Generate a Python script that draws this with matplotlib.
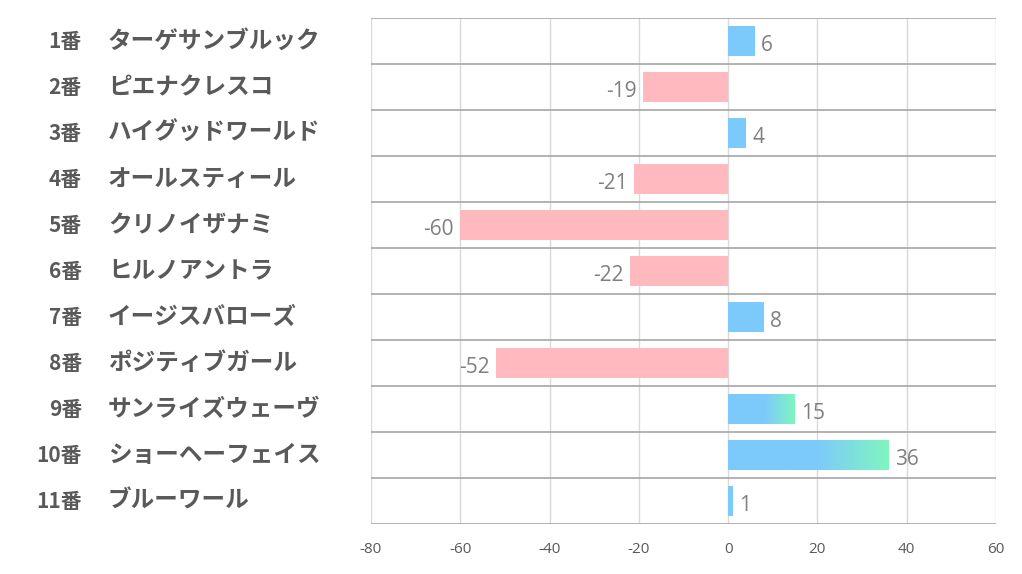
import numpy as np
import matplotlib.pyplot as plt
from matplotlib.colors import LinearSegmentedColormap

plt.rcParams['font.family'] = ['Noto Sans CJK JP', 'DejaVu Sans']
plt.rcParams['axes.unicode_minus'] = False

# データ
nums = ['1番', '2番', '3番', '4番', '5番', '6番', '7番', '8番', '9番', '10番', '11番']
names = ['ターゲサンブルック', 'ピエナクレスコ', 'ハイグッドワールド', 'オールスティール',
         'クリノイザナミ', 'ヒルノアントラ', 'イージスバローズ', 'ポジティブガール',
         'サンライズウェーヴ', 'ショーヘーフェイス', 'ブルーワール']
values = [6, -19, 4, -21, -60, -22, 8, -52, 15, 36, 1]
gradient_rows = [8, 9]   # 9番, 10番 はグラデーション

blue = '#7ccafc'
green = '#80f5bf'
pink = '#ffb9bf'

fig = plt.figure(figsize=(10.22, 5.74), dpi=100)
ax = fig.add_axes([371 / 1022, 1 - 524 / 574, (996 - 371) / 1022, (524 - 18) / 574])

n = len(values)
bar_h = 0.66
ax.set_xlim(-80, 60)
ax.set_ylim(n - 0.5, -0.5)

cmap = LinearSegmentedColormap.from_list('bg', [(0, blue), (0.55, blue), (1, green)])

for i, v in enumerate(values):
    color = blue if v > 0 else pink
    bar = ax.barh(i, v, height=bar_h, color=color, zorder=3)[0]
    if i in gradient_rows:
        grad = np.linspace(0, 1, 256).reshape(1, -1)
        im = ax.imshow(grad, cmap=cmap, aspect='auto', zorder=4,
                       extent=[0, v, i + bar_h / 2, i - bar_h / 2])
        im.set_clip_path(bar)
    if v > 0:
        ax.text(v + 1.4, i + 0.1, str(v), va='center', ha='left',
                fontsize=15, color='#7f7f7f', family=['Open Sans', 'DejaVu Sans'])
    else:
        ax.text(v - 1.4, i + 0.1, str(v), va='center', ha='right',
                fontsize=15, color='#7f7f7f', family=['Open Sans', 'DejaVu Sans'])

ax.set_ylim(n - 0.5, -0.5)
ax.set_xlim(-80, 60)

# グリッド
for xv in range(-80, 61, 20):
    ax.axvline(xv, color='#d9d9d9', lw=1, zorder=1)
for k in range(n + 1):
    ax.axhline(k - 0.5, color='#a6a6a6', lw=1.2, zorder=2)

for s in ax.spines.values():
    s.set_visible(False)

ax.set_yticks([])
ax.set_xticks(range(-80, 61, 20))
ax.tick_params(axis='x', length=0, pad=13, labelsize=11, labelcolor='#595959')
for lab in ax.get_xticklabels():
    lab.set_family(['Open Sans', 'DejaVu Sans'])

# 左側のラベル
for i in range(n):
    yy = fig.transFigure.inverted().transform(ax.transData.transform((0, i)))[1]
    fig.text(82 / 1022, yy, nums[i], ha='right', va='center',
             fontsize=15, fontweight='bold', color='#595959')
    fig.text(108 / 1022, yy, names[i], ha='left', va='center',
             fontsize=17, fontweight='bold', color='#595959')

fig.savefig('out.png', dpi=100)
